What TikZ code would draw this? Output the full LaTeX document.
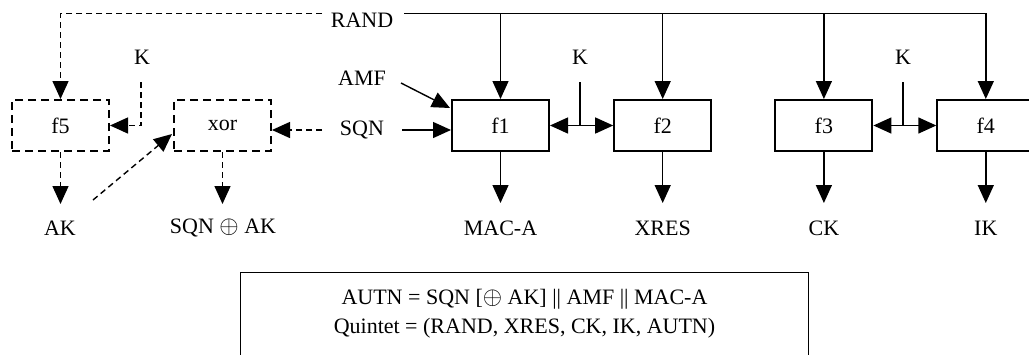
\documentclass[tikz,border=0pt]{standalone}
\usepackage{fontspec}
\setmainfont{Liberation Serif}
\newcommand{\xoplus}{{\fontsize{27}{29}\selectfont$\oplus$}}
\usetikzlibrary{arrows.meta,calc}
\begin{document}
\begin{tikzpicture}[x=1pt,y=-1pt,
  every node/.style={font=\fontsize{22}{29}\selectfont},
  fbox/.style={draw, line width=2pt, minimum width=97pt, minimum height=51pt, inner sep=0pt},
  dbox/.style={fbox, dash pattern=on 8pt off 5pt},
  arr/.style={line width=1.4pt, -{Triangle[length=18pt,width=16pt]}},
  darr/.style={arr, dash pattern=on 6pt off 4pt},
  plain/.style={line width=1.4pt},
  lbl/.style={inner sep=0pt}]
\clip (0,0) rectangle (1029,354);
% boxes
\node[dbox] (f5) at (60.5,125.5) {f5};
\node[dbox] (xor) at (222.5,125.5) {xor};
\node[fbox] (f1) at (500.5,125.5) {f1};
\node[fbox] (f2) at (662.7,125.5) {f2};
\node[fbox] (f3) at (823.9,125.5) {f3};
\node[fbox] (f4) at (985.8,125.5) {f4};
% labels
\node[lbl] (rand) at (362,20.5) {RAND};
\node[lbl] (k0) at (142,57) {K};
\node[lbl] (k1) at (580,57) {K};
\node[lbl] (k2) at (903,57) {K};
\node[lbl] (amf) at (362,78) {AMF};
\node[lbl] (sqn) at (362,130) {SQN};
\node[lbl] (ak) at (60,228) {AK};
\node[lbl] (sak) at (223,228) {SQN \xoplus{} AK};
\node[lbl] (maca) at (500.5,228) {MAC-A};
\node[lbl] (xres) at (662.7,228) {XRES};
\node[lbl] (ck) at (823.9,228) {CK};
\node[lbl] (ik) at (985.8,228) {IK};
% coordinates
\coordinate (rl) at (322,13.5);
\coordinate (rr) at (404,13.5);
\coordinate (k0s) at (141,82);
\coordinate (k1s) at (580,82);
\coordinate (k2s) at (903,82);
\coordinate (amfs) at (401,83);
\coordinate (sqnl) at (322,130);
\coordinate (sqnr) at (402,130);
\coordinate (akx) at (93,200);
% RAND distribution
\draw[darr] (rl) -| (f5.north);
\draw[arr] (rr) -| (f4.north);
\draw[arr] (f1.north |- rr) -- (f1.north);
\draw[arr] (f2.north |- rr) -- (f2.north);
\draw[arr] (f3.north |- rr) -- (f3.north);
% K inputs
\draw[darr] (k0s) |- (f5.east);
\draw[plain] (k1s) -- (k1s |- f1.east) coordinate (j1);
\draw[arr] (j1) -- (f1.east);
\draw[arr] (j1) -- (f2.west);
\draw[plain] (k2s) -- (k2s |- f3.east) coordinate (j2);
\draw[arr] (j2) -- (f3.east);
\draw[arr] (j2) -- (f4.west);
% AMF, SQN
\draw[arr] (amfs) -- ($(f1.north west)+(-1,9)$);
\draw[arr] (sqnr) -- (f1.west |- sqnr);
\draw[darr] (sqnl) -- (xor.east |- sqnl);
\draw[darr] (akx) -- ($(xor.west)+(-1,8.5)$);
% outputs
\draw[darr] (f5.south) -- ($(f5.south)+(0,52)$);
\draw[darr] (xor.south) -- ($(xor.south)+(0,52)$);
\draw[arr] (f1.south) -- ($(f1.south)+(0,51)$);
\draw[arr] (f2.south) -- ($(f2.south)+(0,51)$);
\draw[arr] (f3.south) -- ($(f3.south)+(0,51)$);
\draw[arr] (f4.south) -- ($(f4.south)+(0,51)$);
% bottom box
\node[draw, line width=1.4pt, minimum width=568pt, minimum height=140pt, anchor=north west, inner sep=0pt] (res) at (240,272) {};
\node[lbl, align=center] (restext) at (524.5,313.5) {AUTN = SQN [\xoplus{} AK] || AMF || MAC-A\\Quintet = (RAND, XRES, CK, IK, AUTN)};
\end{tikzpicture}
\end{document}
